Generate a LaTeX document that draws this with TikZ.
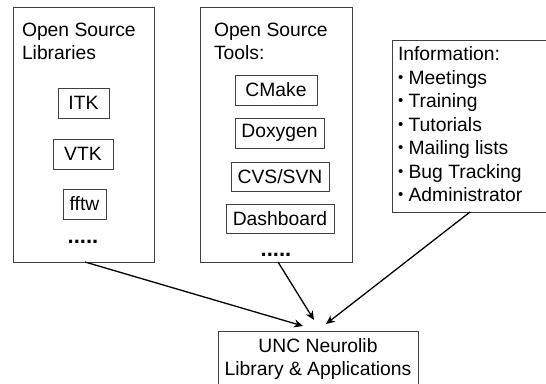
\documentclass[tikz,border=0pt]{standalone}
\usepackage{fontspec}
\setmainfont{Liberation Sans}
\usetikzlibrary{arrows.meta}
\newcommand{\blt}{\raisebox{0.12em}{\fontsize{15}{15}\selectfont •}}
\begin{document}
\begin{tikzpicture}[x=1pt,y=-1pt,
  every node/.style={inner sep=0pt, outer sep=0pt, font=\fontsize{19.3}{23.5}\selectfont},
  frame/.style={draw=black!75, line width=0.9pt, fill=white},
  item/.style={draw=black!75, line width=0.9pt, minimum height=30pt, align=center},
  title/.style={anchor=north west, align=left},
  dots/.style={font=\fontsize{22}{22}\bfseries\selectfont, anchor=base},
  link/.style={line width=1.3pt, -{Stealth[length=9pt,width=8pt]}}]
\useasboundingbox (0,0) rectangle (546,383);
% outer boxes
\node[frame, minimum width=141pt, minimum height=255pt] (lib) at (83.5,134.5) {};
\node[frame, minimum width=152pt, minimum height=255pt] (tools) at (276,134.5) {};
\node[frame, minimum width=160pt, minimum height=172pt] (info) at (472,126) {};
\node[frame, minimum width=200pt, minimum height=60pt] (unc) at (318,361) {};
% titles
\node[title] (libt) at (22,23) {Open Source\\Libraries};
\node[title] (toolst) at (214,23) {Open Source\\Tools:};
\node[title] (infot) at (398,47) {Information:\\\blt{} Meetings\\\blt{} Training\\\blt{} Tutorials\\\blt{} Mailing lists\\\blt{} Bug Tracking\\\blt{} Administrator};
\node[align=center] (unct) at (318,359) {UNC Neurolib\\Library \& Applications};
% library items
\node[item, minimum width=51pt] (itk) at (83.5,103) {ITK};
\node[item, minimum width=60pt] (vtk) at (83,154) {VTK};
\node[item, minimum width=43pt] (fftw) at (84.5,204) {fftw};
\node[dots] (libdots) at (83,243) {.....};
% tool items
\node[item, minimum width=82pt] (cmake) at (276,90) {CMake};
\node[item, minimum width=89pt] (doxy) at (279.5,133) {Doxygen};
\node[item, minimum width=98pt, minimum height=29pt] (cvs) at (280,176.5) {CVS/SVN};
\node[item, minimum width=108pt, minimum height=29pt] (dash) at (280,218.5) {Dashboard};
\node[dots] (tooldots) at (276,256) {.....};
% connectors
\coordinate (libout) at (85,262);
\coordinate (toolout) at (278,262);
\coordinate (infoout) at (470,212);
\coordinate (inl) at (303,326);
\coordinate (inm) at (314,320);
\coordinate (inr) at (326,324);
\draw[link] (libout) -- (inl);
\draw[link] (toolout) -- (inm);
\draw[link] (infoout) -- (inr);
\end{tikzpicture}
\end{document}
